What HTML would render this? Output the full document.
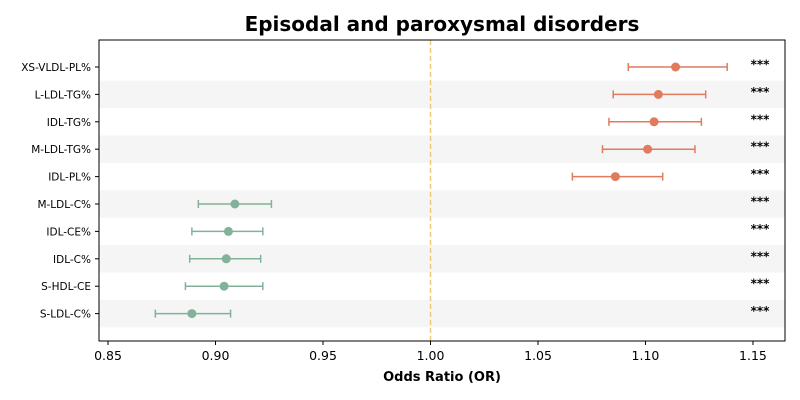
<!DOCTYPE html>
<html><head><meta charset="utf-8"><style>
body{margin:0;background:#fff;}
svg{display:block;font-family:"DejaVu Sans","Liberation Sans",sans-serif;}
</style></head><body>
<svg id="c" width="800" height="400"></svg>
<script>
const labels=["XS-VLDL-PL%","L-LDL-TG%","IDL-TG%","M-LDL-TG%","IDL-PL%","M-LDL-C%","IDL-CE%","IDL-C%","S-HDL-CE","S-LDL-C%"];
const orValues=[1.114,1.106,1.104,1.101,1.086,0.909,0.906,0.905,0.904,0.889];
const lowerCI=[1.092,1.085,1.083,1.080,1.066,0.892,0.889,0.888,0.886,0.872];
const upperCI=[1.138,1.128,1.126,1.123,1.108,0.926,0.922,0.921,0.922,0.907];
const sig=["***","***","***","***","***","***","***","***","***","***"];
const xTicks=[0.85,0.90,0.95,1.00,1.05,1.10,1.15];
const NS="http://www.w3.org/2000/svg";
const svg=document.getElementById('c');
const L=99,R=785,T=40,B=341;
const xMin=0.8458,xMax=1.1649;
const x=v=>L+(v-xMin)/(xMax-xMin)*(R-L);
const rowH=27.4,y0=67;
const y=i=>y0+i*rowH;
function el(t,a,txt){const e=document.createElementNS(NS,t);for(const k in a)e.setAttribute(k,a[k]);if(txt!=null)e.textContent=txt;svg.appendChild(e);return e;}
labels.forEach((l,i)=>{if(i%2===1){const r=el('rect',{x:L,y:y(i)-rowH/2,width:R-L,height:rowH,fill:'#f5f5f5'});

}});
const ref=el('line',{x1:x(1),x2:x(1),y1:T,y2:B,stroke:'#f0c879','stroke-width':1.5,'stroke-dasharray':'5,3'});


labels.forEach((l,i)=>{
const c=orValues[i]>1?'#e07b5d':'#82b39a';const yy=y(i);
const g=document.createElementNS(NS,'g');svg.appendChild(g);


const mk=(t,a)=>{const e=document.createElementNS(NS,t);for(const k in a)e.setAttribute(k,a[k]);g.appendChild(e);return e;};
mk('line',{x1:x(lowerCI[i]),x2:x(upperCI[i]),y1:yy,y2:yy,stroke:c,'stroke-width':1.5});
mk('line',{x1:x(lowerCI[i]),x2:x(lowerCI[i]),y1:yy-4,y2:yy+4,stroke:c,'stroke-width':1.5});
mk('line',{x1:x(upperCI[i]),x2:x(upperCI[i]),y1:yy-4,y2:yy+4,stroke:c,'stroke-width':1.5});
mk('circle',{cx:x(orValues[i]),cy:yy,r:4.5,fill:c});
const lt=el('text',{x:L-8,y:yy+4,'text-anchor':'end','font-size':10.5,fill:'#000'},l);


el('line',{x1:L-4,x2:L,y1:yy,y2:yy,stroke:'#000'});
const st=el('text',{x:760,y:yy+1.5,'text-anchor':'middle','font-size':12,'font-weight':'bold',fill:'#000'},sig[i]);


});
xTicks.forEach(t=>{el('line',{x1:x(t),x2:x(t),y1:B,y2:B+4,stroke:'#000'});
const tt=el('text',{x:x(t),y:B+19,'text-anchor':'middle','font-size':12.5,fill:'#000'},t.toFixed(2));

});
const ax=el('rect',{x:L,y:T,width:R-L,height:B-T,fill:'none',stroke:'#000','stroke-width':1});


const xt=el('text',{x:(L+R)/2,y:381,'text-anchor':'middle','font-size':13,'font-weight':'bold'},'Odds Ratio (OR)');


const ti=el('text',{x:(L+R)/2,y:31,'text-anchor':'middle','font-size':20,'font-weight':'bold'},'Episodal and paroxysmal disorders');


</script>
</body></html>
